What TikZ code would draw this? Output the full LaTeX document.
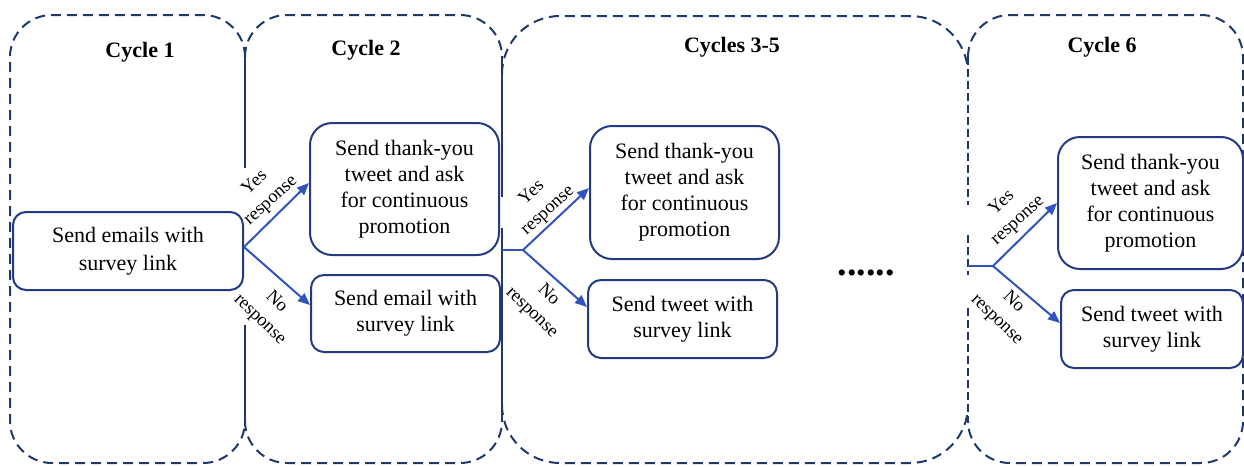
\documentclass[tikz,border=0pt]{standalone}
\usepackage{fontspec}
\setmainfont{Liberation Serif}
\usetikzlibrary{arrows.meta}
\definecolor{framenavy}{RGB}{32,56,110}
\definecolor{boxnavy}{RGB}{36,58,130}
\definecolor{arrowblue}{RGB}{47,84,190}

\begin{document}
\begin{tikzpicture}[x=1pt,y=-1pt,
  cyclefr/.style={draw=framenavy, line width=2pt, dash pattern=on 10pt off 6pt},
  shared/.style={draw=framenavy, line width=2.4pt},
  shareddash/.style={draw=framenavy, line width=2.6pt, dash pattern=on 8pt off 4pt},
  stepbox/.style={draw=boxnavy, line width=2pt, align=center, inner sep=0pt,
    font=\fontsize{22}{26}\selectfont},
  title/.style={font=\fontsize{22}{26}\selectfont\bfseries, inner sep=0pt},
  flow/.style={draw=arrowblue, line width=2pt, -{Triangle[length=12pt,width=10pt]}},
  stem/.style={draw=arrowblue, line width=2pt},
  lbl/.style={font=\fontsize{18.5}{24}\selectfont, align=center, inner sep=0pt},
]
\useasboundingbox (0,0) rectangle (1244,466);

% cycle frames: dashed outlines, shared sides drawn separately
\draw[cyclefr, rounded corners=42pt] (245,57) -- (245,15) -- (10,15) -- (10,463) -- (245,463) -- (245,421);
\draw[cyclefr, rounded corners=42pt] (245,57) -- (245,15) -- (502,15) -- (502,57);
\draw[cyclefr, rounded corners=42pt] (245,421) -- (245,463) -- (502,463) -- (502,421);
\draw[cyclefr, rounded corners=58pt] (502,74) -- (502,16) -- (968,16) -- (968,74);
\draw[cyclefr, rounded corners=58pt] (502,405) -- (502,463) -- (968,463) -- (968,405);
\draw[cyclefr, rounded corners=42pt] (968,57) -- (968,15) -- (1243,15) -- (1243,463) -- (968,463) -- (968,421);

% shared sides between neighbouring cycles
\draw[shared] (245,52) -- (245,168);
\draw[shared] (245,325) -- (245,426);
\draw[shared] (502,57) -- (502,197);
\draw[shared] (502,228) -- (502,421);
\draw[shareddash] (968,57) -- (968,205);
\draw[shareddash] (968,235) -- (968,275);
\draw[shareddash] (968,308) -- (968,421);

% titles
\node[title] (t1) at (140,52) {Cycle 1};
\node[title] (t2) at (366,50) {Cycle 2};
\node[title] (t3) at (732,47) {Cycles 3-5};
\node[title] (t6) at (1102,47) {Cycle 6};

% steps
\node[stepbox, rounded corners=13pt, minimum width=230pt, minimum height=78pt,
  font=\fontsize{22}{28}\selectfont] (n1) at (128,251) {Send emails with\\survey link};
\node[stepbox, rounded corners=22pt, minimum width=189pt, minimum height=132pt] (c2a) at (404.5,189)
  {Send thank-you\\tweet and ask\\for continuous\\promotion};
\node[stepbox, rounded corners=13pt, minimum width=189pt, minimum height=77pt] (c2b) at (405.5,313.5)
  {Send email with\\survey link};
\node[stepbox, rounded corners=22pt, minimum width=189pt, minimum height=133pt] (c3a) at (684.5,192.5)
  {Send thank-you\\tweet and ask\\for continuous\\promotion};
\node[stepbox, rounded corners=13pt, minimum width=189pt, minimum height=78pt] (c3b) at (682.5,319)
  {Send tweet with\\survey link};
\node[stepbox, rounded corners=22pt, minimum width=185pt, minimum height=132pt] (c6a) at (1150.5,203)
  {Send thank-you\\tweet and ask\\for continuous\\promotion};
\node[stepbox, rounded corners=13pt, minimum width=182pt, minimum height=78pt] (c6b) at (1152,329)
  {Send tweet with\\survey link};

\node[font=\fontsize{38}{38}\selectfont\bfseries, inner sep=0pt] (dots) at (866,273) {......};

% branching connectors
\coordinate (f1) at ([yshift=4pt]n1.east);
\draw[flow] (f1) -- ([yshift=6pt]c2a.west);
\draw[flow] (f1) -- ([yshift=8.5pt]c2b.west);

\coordinate (s3) at (502,250);
\coordinate (f3) at (523,250);
\draw[stem] (s3) -- (f3);
\draw[flow] (f3) -- ([yshift=4.5pt]c3a.west);
\draw[flow] (f3) -- ([yshift=12pt]c3b.west);

\coordinate (s6) at (968,266);
\coordinate (f6) at (993,266);
\draw[stem] (s6) -- (f6);
\draw[flow] (f6) -- (c6a.west);
\draw[flow] (f6) -- ([yshift=6pt]c6b.west);

% branch labels
\node[lbl, rotate=42] (y1) at (263,192) {Yes\\response};
\node[lbl, rotate=-44] (no1) at (268,311) {No\\response};
\node[lbl, rotate=42] (y3) at (540,202) {Yes\\response};
\node[lbl, rotate=-44] (no3) at (540,304) {No\\response};
\node[lbl, rotate=42] (y6) at (1010,212) {Yes\\response};
\node[lbl, rotate=-44] (no6) at (1005,311) {No\\response};
\end{tikzpicture}
\end{document}
